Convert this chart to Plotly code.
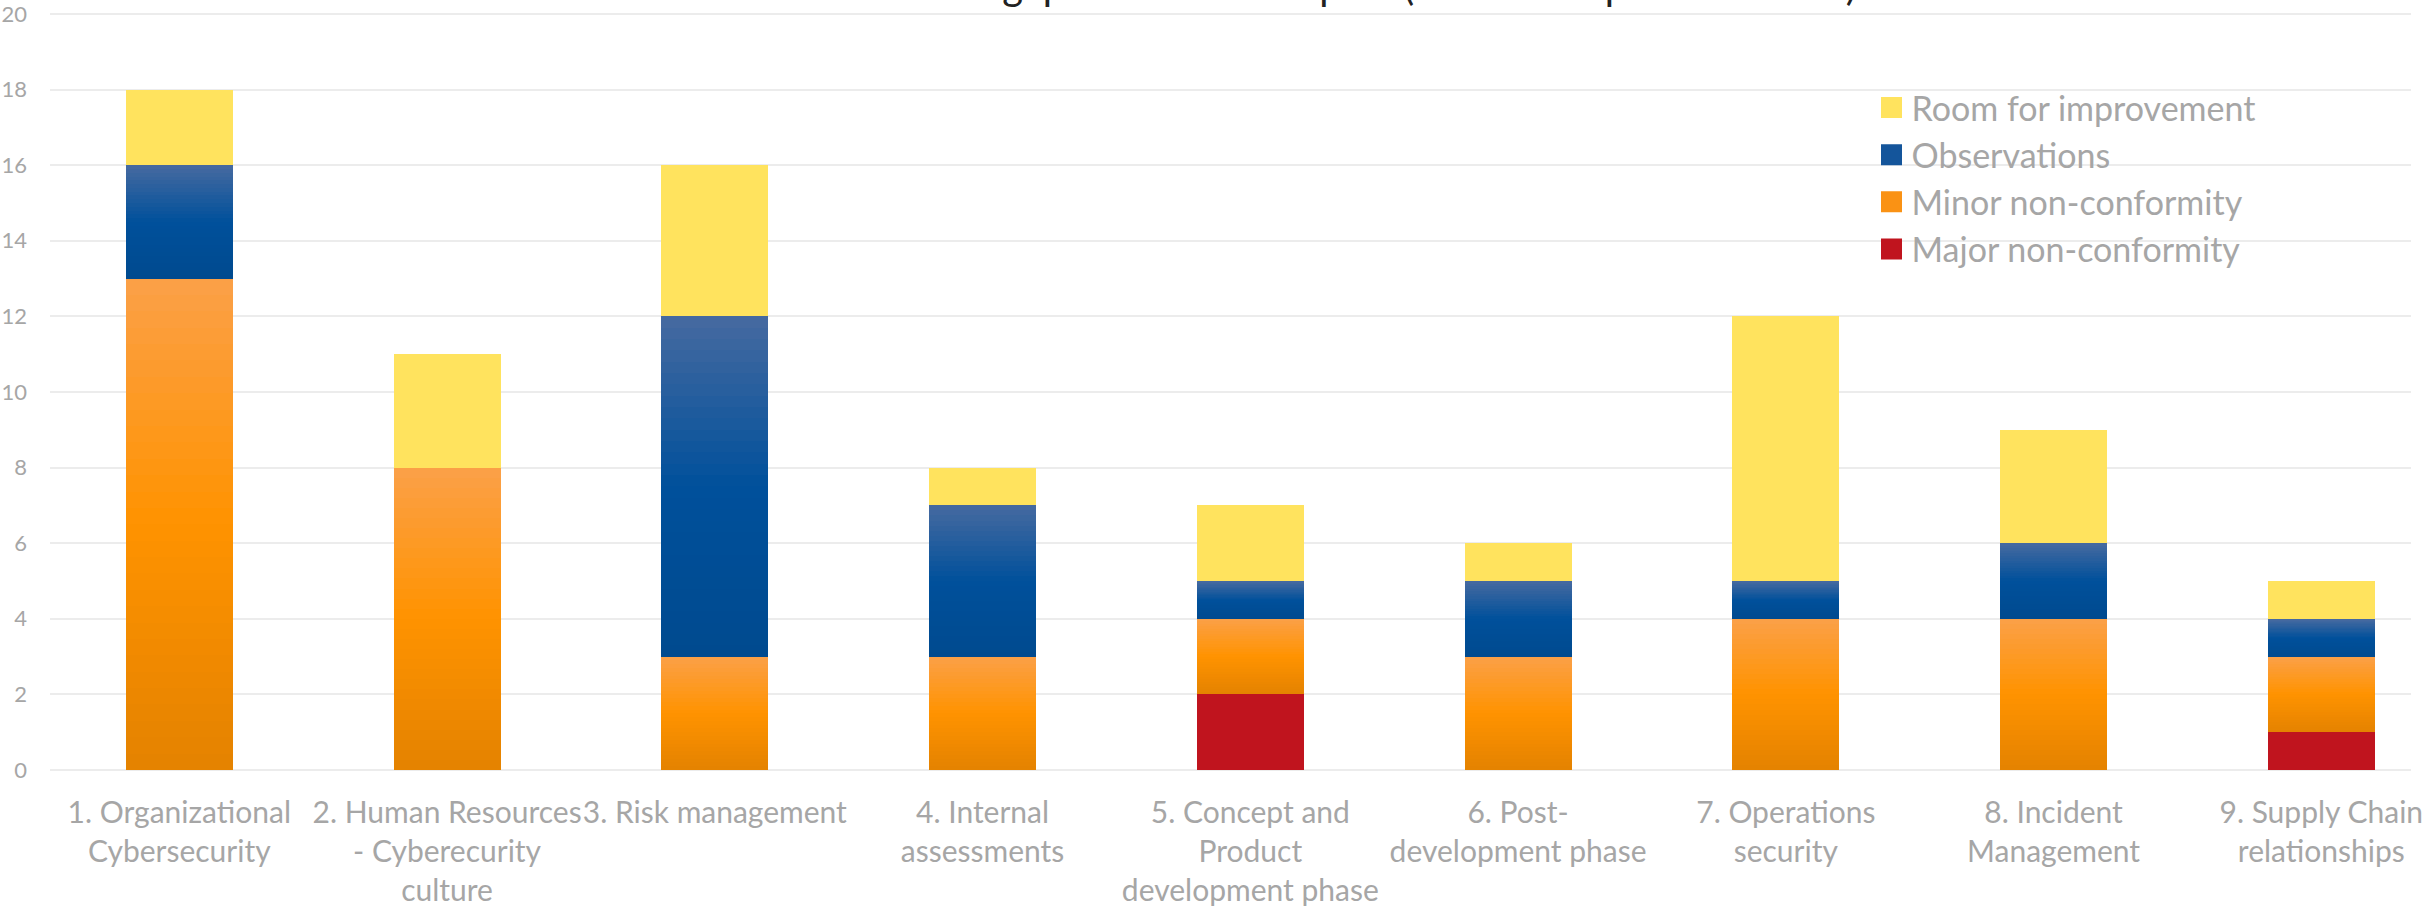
import plotly.graph_objects as go

categories = [
    "1. Organizational<br>Cybersecurity",
    "2. Human Resources<br>- Cyberecurity<br>culture",
    "3. Risk management",
    "4. Internal<br>assessments",
    "5. Concept and<br>Product<br>development phase",
    "6. Post-<br>development phase",
    "7. Operations<br>security",
    "8. Incident<br>Management",
    "9. Supply Chain<br>relationships",
]
major = [0, 0, 0, 0, 2, 0, 0, 0, 1]
minor = [13, 8, 3, 3, 2, 3, 4, 4, 2]
observations = [3, 0, 9, 4, 1, 2, 1, 2, 1]
room = [2, 3, 4, 1, 2, 1, 7, 3, 1]
y_ticks = [0, 2, 4, 6, 8, 10, 12, 14, 16, 18, 20]

title_text = "Audit results and the gap in the audit report (number of points in total)"

FONT = "Lato"
GREY = "#a6a6a6"
N_SLICES = 30

RED = "#c0141e"
YELLOW = "#ffe35e"
# gradient stops (top, middle, bottom)
ORANGE_STOPS = [(251, 160, 72), (255, 147, 0), (228, 130, 0)]
BLUE_STOPS = [(70, 106, 160), (0, 80, 155), (0, 74, 143)]


def grad(stops, t):
    # t: 0 top -> 1 bottom
    if t <= 0.5:
        a, b, u = stops[0], stops[1], t / 0.5
    else:
        a, b, u = stops[1], stops[2], (t - 0.5) / 0.5
    c = [round(a[i] + (b[i] - a[i]) * u) for i in range(3)]
    return "rgb(%d,%d,%d)" % tuple(c)


fig = go.Figure()

bar_common = dict(marker_line_width=0, showlegend=False, hoverinfo="skip")

fig.add_trace(go.Bar(x=categories, y=major, marker_color=RED, **bar_common))


def add_gradient(values, stops):
    for j in range(N_SLICES):
        # j = 0 is bottom slice
        t = 1 - (j + 0.5) / N_SLICES
        fig.add_trace(go.Bar(
            x=categories,
            y=[v / N_SLICES for v in values],
            marker_color=grad(stops, t),
            **bar_common,
        ))


add_gradient(minor, ORANGE_STOPS)
add_gradient(observations, BLUE_STOPS)
fig.add_trace(go.Bar(x=categories, y=room, marker_color=YELLOW, **bar_common))

# legend entries
legend_items = [
    ("Major non-conformity", RED),
    ("Minor non-conformity", "rgb(250,146,20)"),
    ("Observations", "rgb(20,85,155)"),
    ("Room for improvement", YELLOW),
]
for name, col in legend_items:
    fig.add_trace(go.Scatter(
        x=[None], y=[None], mode="markers", name=name,
        marker=dict(symbol="square", size=16, color=col,
                    line=dict(color=col, width=5)),
        hoverinfo="skip",
    ))

fig.update_layout(
    width=2423, height=907, autosize=False,
    margin=dict(l=50, r=0, t=5, b=136),
    paper_bgcolor="white", plot_bgcolor="white",
    barmode="stack", bargap=0.6,
    font=dict(family=FONT, color=GREY),
    legend=dict(
        x=0.7715, y=0.907, xanchor="left", yanchor="top",
        traceorder="reversed",
        font=dict(size=34, color=GREY, family=FONT),
        bgcolor="rgba(0,0,0,0)",
    ),
    xaxis=dict(
        type="category", range=[-0.483, 8.335],
        showgrid=False, showline=False, ticks="",
        tickangle=0,
        tickfont=dict(size=30, color=GREY, family=FONT),
        ticklabelstandoff=22,
    ),
    yaxis=dict(
        range=[0, 20.158], tickmode="array", tickvals=y_ticks,
        showgrid=True,
        gridcolor="#ececec", gridwidth=2,
        zeroline=True, zerolinecolor="#ececec", zerolinewidth=2,
        showline=False, ticks="",
        tickfont=dict(size=22, color=GREY, family=FONT),
        ticklabelstandoff=22,
        ticklabeloverflow="allow",
    ),
    annotations=[dict(
        text=title_text, xref="paper", yref="paper",
        x=0.505, y=1, xanchor="center", yanchor="bottom",
        yshift=-3, showarrow=False,
        font=dict(size=40, color="#222222", family=FONT),
    )],
)

fig.write_html("out.html")
